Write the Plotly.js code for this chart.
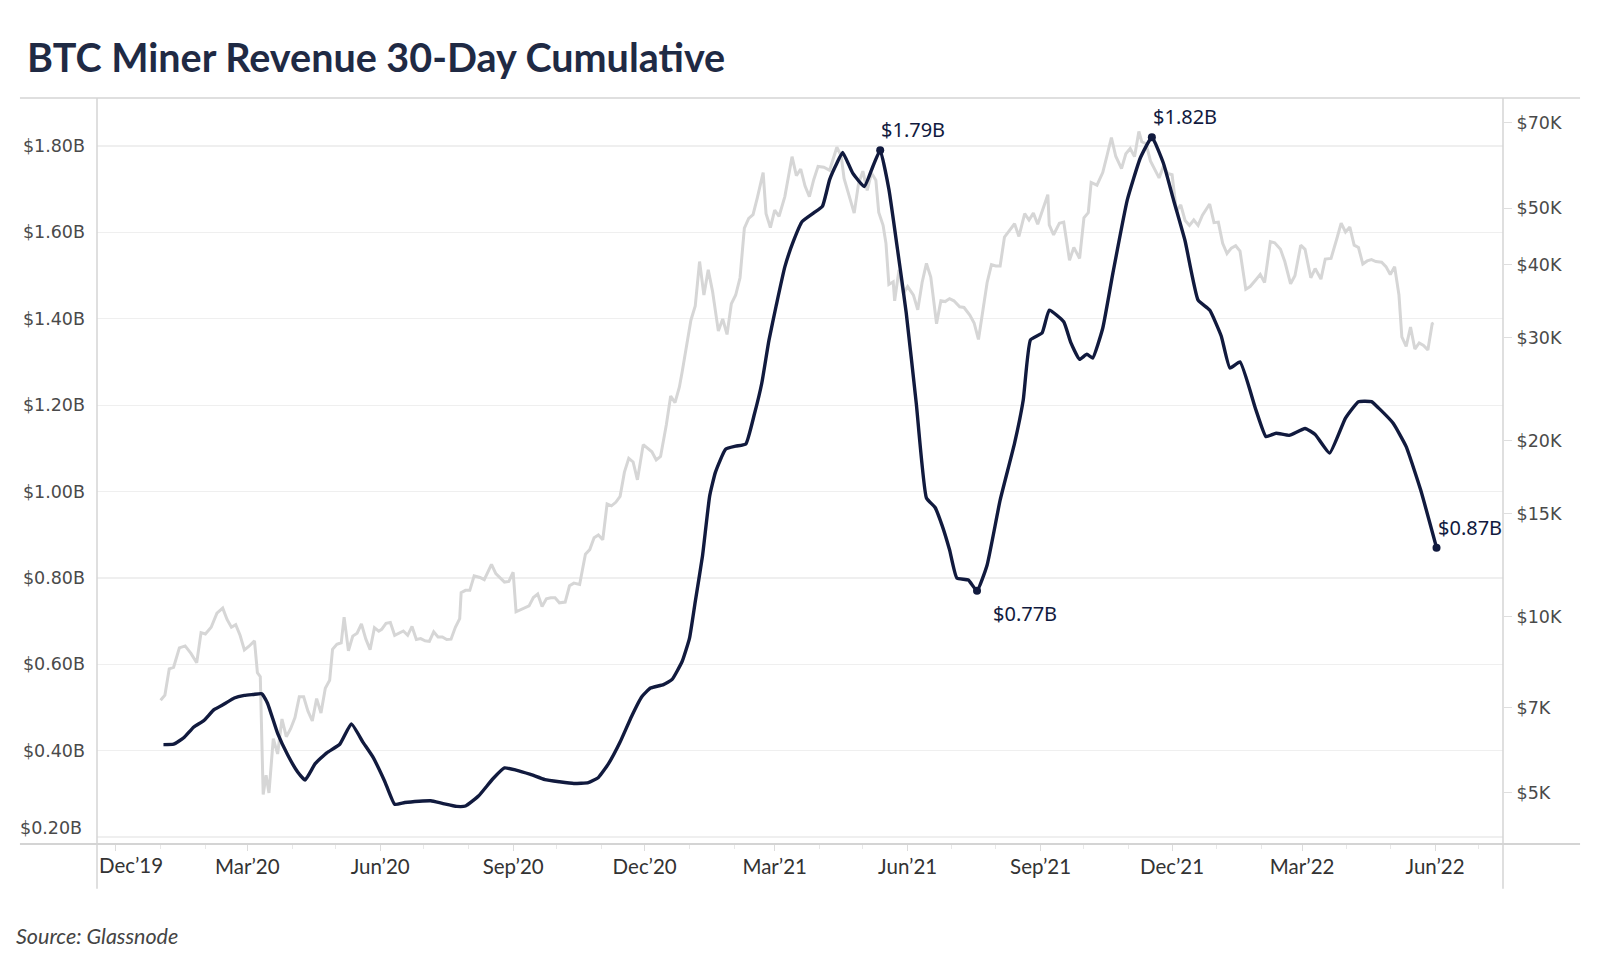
<!DOCTYPE html>
<html><head><meta charset="utf-8">
<script src="https://cdn.plot.ly/plotly-3.0.1.min.js"></script>
<style>html,body{margin:0;padding:0;background:#fff;}#chart{width:1600px;height:960px;}</style>
</head><body><div id="chart"></div>
<script>
// Miner revenue, 30-day cumulative (USD billions)
const revDates = ['2020-01-03','2020-01-10','2020-01-17','2020-01-24','2020-01-31','2020-02-07','2020-02-14','2020-02-21','2020-02-28','2020-03-05','2020-03-11','2020-03-15','2020-03-22','2020-03-29','2020-04-05','2020-04-10','2020-04-17','2020-04-25','2020-05-04','2020-05-12','2020-05-20','2020-05-27','2020-06-04','2020-06-11','2020-06-18','2020-06-28','2020-07-06','2020-07-14','2020-07-24','2020-07-30','2020-08-08','2020-08-18','2020-08-26','2020-09-03','2020-09-13','2020-09-23','2020-10-03','2020-10-13','2020-10-23','2020-10-30','2020-11-06','2020-11-14','2020-11-22','2020-11-29','2020-12-05','2020-12-14','2020-12-20','2020-12-27','2021-01-01','2021-01-05','2021-01-10','2021-01-15','2021-01-19','2021-01-26','2021-02-02','2021-02-09','2021-02-15','2021-02-20','2021-02-25','2021-03-02','2021-03-08','2021-03-14','2021-03-20','2021-03-28','2021-04-03','2021-04-08','2021-04-13','2021-04-17','2021-04-24','2021-05-02','2021-05-08','2021-05-13','2021-05-19','2021-05-25','2021-05-31','2021-06-07','2021-06-14','2021-06-20','2021-06-25','2021-06-30','2021-07-05','2021-07-13','2021-07-19','2021-07-26','2021-08-04','2021-08-14','2021-08-20','2021-08-25','2021-09-02','2021-09-07','2021-09-17','2021-09-22','2021-09-28','2021-10-03','2021-10-07','2021-10-14','2021-10-21','2021-10-31','2021-11-09','2021-11-17','2021-11-25','2021-12-02','2021-12-10','2021-12-19','2021-12-27','2022-01-04','2022-01-10','2022-01-17','2022-01-28','2022-02-04','2022-02-11','2022-02-20','2022-03-03','2022-03-10','2022-03-20','2022-03-31','2022-04-09','2022-04-18','2022-04-23','2022-05-03','2022-05-12','2022-05-22','2022-06-02'];
const revValues = [0.414,0.415,0.43,0.455,0.47,0.495,0.508,0.522,0.528,0.53,0.532,0.51,0.44,0.39,0.35,0.332,0.37,0.395,0.415,0.462,0.42,0.385,0.33,0.276,0.28,0.283,0.284,0.278,0.271,0.272,0.295,0.335,0.36,0.355,0.345,0.333,0.328,0.324,0.326,0.338,0.37,0.42,0.48,0.525,0.545,0.553,0.565,0.607,0.66,0.745,0.85,0.99,1.045,1.098,1.105,1.11,1.18,1.25,1.35,1.43,1.52,1.58,1.625,1.645,1.66,1.722,1.76,1.785,1.737,1.706,1.753,1.79,1.70,1.56,1.414,1.203,0.985,0.963,0.92,0.865,0.80,0.795,0.77,0.83,0.98,1.112,1.212,1.351,1.367,1.42,1.393,1.344,1.306,1.318,1.309,1.378,1.505,1.675,1.772,1.82,1.76,1.675,1.58,1.443,1.42,1.36,1.286,1.30,1.189,1.127,1.135,1.13,1.146,1.132,1.089,1.17,1.208,1.208,1.193,1.158,1.104,1.004,0.87];

// BTC price (USD, right log axis)
const priceDates = ['2020-01-01','2020-01-04','2020-01-07','2020-01-10','2020-01-14','2020-01-18','2020-01-22','2020-01-26','2020-01-29','2020-02-01','2020-02-05','2020-02-09','2020-02-13','2020-02-16','2020-02-19','2020-02-22','2020-02-25','2020-02-28','2020-03-02','2020-03-06','2020-03-08','2020-03-10','2020-03-12','2020-03-14','2020-03-16','2020-03-19','2020-03-22','2020-03-25','2020-03-28','2020-03-31','2020-04-03','2020-04-06','2020-04-09','2020-04-12','2020-04-15','2020-04-18','2020-04-21','2020-04-24','2020-04-27','2020-04-29','2020-05-02','2020-05-05','2020-05-07','2020-05-10','2020-05-13','2020-05-16','2020-05-19','2020-05-22','2020-05-25','2020-05-28','2020-05-31','2020-06-02','2020-06-05','2020-06-08','2020-06-11','2020-06-14','2020-06-17','2020-06-20','2020-06-23','2020-06-26','2020-06-29','2020-07-02','2020-07-05','2020-07-08','2020-07-11','2020-07-14','2020-07-17','2020-07-20','2020-07-23','2020-07-26','2020-07-27','2020-07-30','2020-08-02','2020-08-05','2020-08-09','2020-08-12','2020-08-17','2020-08-20','2020-08-23','2020-08-26','2020-08-29','2020-09-01','2020-09-03','2020-09-06','2020-09-09','2020-09-12','2020-09-15','2020-09-18','2020-09-21','2020-09-24','2020-09-27','2020-09-30','2020-10-03','2020-10-07','2020-10-10','2020-10-13','2020-10-17','2020-10-21','2020-10-24','2020-10-27','2020-10-30','2020-11-02','2020-11-05','2020-11-08','2020-11-11','2020-11-14','2020-11-17','2020-11-20','2020-11-23','2020-11-26','2020-11-30','2020-12-03','2020-12-06','2020-12-09','2020-12-12','2020-12-16','2020-12-19','2020-12-22','2020-12-25','2020-12-27','2020-12-30','2021-01-02','2021-01-05','2021-01-08','2021-01-11','2021-01-14','2021-01-17','2021-01-21','2021-01-24','2021-01-27','2021-01-30','2021-02-02','2021-02-05','2021-02-08','2021-02-11','2021-02-14','2021-02-17','2021-02-21','2021-02-23','2021-02-26','2021-03-01','2021-03-04','2021-03-08','2021-03-13','2021-03-16','2021-03-19','2021-03-22','2021-03-25','2021-03-28','2021-03-31','2021-04-04','2021-04-08','2021-04-13','2021-04-16','2021-04-18','2021-04-22','2021-04-25','2021-04-28','2021-05-01','2021-05-04','2021-05-07','2021-05-10','2021-05-12','2021-05-15','2021-05-17','2021-05-19','2021-05-22','2021-05-23','2021-05-26','2021-05-29','2021-06-01','2021-06-05','2021-06-08','2021-06-11','2021-06-14','2021-06-17','2021-06-21','2021-06-24','2021-06-27','2021-06-30','2021-07-03','2021-07-07','2021-07-10','2021-07-14','2021-07-17','2021-07-20','2021-07-23','2021-07-26','2021-07-29','2021-08-01','2021-08-04','2021-08-07','2021-08-10','2021-08-14','2021-08-17','2021-08-21','2021-08-24','2021-08-27','2021-08-30','2021-09-02','2021-09-06','2021-09-07','2021-09-10','2021-09-14','2021-09-17','2021-09-21','2021-09-24','2021-09-28','2021-10-01','2021-10-04','2021-10-06','2021-10-10','2021-10-14','2021-10-17','2021-10-20','2021-10-23','2021-10-27','2021-10-30','2021-11-02','2021-11-05','2021-11-08','2021-11-10','2021-11-13','2021-11-16','2021-11-19','2021-11-22','2021-11-25','2021-11-28','2021-12-01','2021-12-04','2021-12-07','2021-12-10','2021-12-13','2021-12-16','2021-12-19','2021-12-22','2021-12-27','2021-12-30','2022-01-02','2022-01-05','2022-01-08','2022-01-11','2022-01-14','2022-01-17','2022-01-21','2022-01-24','2022-01-28','2022-01-31','2022-02-03','2022-02-07','2022-02-10','2022-02-14','2022-02-17','2022-02-21','2022-02-24','2022-02-28','2022-03-03','2022-03-07','2022-03-10','2022-03-14','2022-03-17','2022-03-21','2022-03-25','2022-03-28','2022-03-31','2022-04-03','2022-04-06','2022-04-09','2022-04-12','2022-04-15','2022-04-18','2022-04-21','2022-04-25','2022-04-28','2022-05-01','2022-05-04','2022-05-07','2022-05-09','2022-05-12','2022-05-15','2022-05-18','2022-05-21','2022-05-24','2022-05-27','2022-05-30','2022-05-31'];
const priceValues = [7200,7350,8150,8200,8850,8920,8660,8350,9400,9350,9600,10150,10350,9900,9600,9700,9300,8780,8900,9100,8030,7900,4970,5360,5000,6190,5830,6690,6240,6440,6730,7300,7300,6900,6640,7250,6850,7550,7790,8800,8980,9030,9990,8750,9270,9380,9730,9170,8790,9580,9450,9520,9750,9780,9300,9380,9460,9300,9630,9150,9180,9100,9080,9430,9240,9240,9150,9160,9600,9930,11000,11100,11100,11750,11680,11580,12300,11860,11650,11470,11500,11920,10200,10280,10330,10440,10790,10940,10420,10740,10780,10780,10570,10600,11300,11420,11360,12800,13030,13650,13800,13550,15600,15480,15700,16070,17680,18670,18400,17150,19700,19450,19150,18550,18800,21300,23850,23250,24700,26280,28950,32150,34000,40500,35500,39200,36000,30800,32300,30400,34300,35500,38000,46200,48000,48700,52100,57500,48900,46300,49600,48400,52300,61200,56800,58300,54500,52300,55900,58900,58700,58000,63500,61400,56200,51700,49000,55000,57800,53600,57400,55800,49150,46700,43500,37000,37400,34700,39200,35700,36700,35500,33500,37300,40200,38100,31700,34700,34600,35000,34700,33900,33800,32800,31800,29800,33600,37300,40000,39800,39800,44600,45600,47000,44700,48900,47700,49000,46900,49300,52700,46800,45000,47100,47300,40700,42800,41000,48100,49100,55300,54700,57500,61500,66000,61300,58400,61900,63200,61200,67600,64900,64400,60200,58100,56300,58900,57300,57000,49400,50600,47600,46700,47700,46700,48600,50800,47200,47300,43500,41800,42700,43100,42200,36300,36700,37700,38500,37300,43800,43600,42500,40500,37100,38300,43200,42500,38000,39400,37800,40900,41000,44300,47100,45500,46400,43200,42800,40100,40600,40800,40500,40400,39700,38500,39700,35500,30100,29000,31300,28700,29400,29100,28600,31700,31800];

const xTickDates = ['2019-12-01','2020-03-01','2020-06-01','2020-09-01','2020-12-01','2021-03-01','2021-06-01','2021-09-01','2021-12-01','2022-03-01','2022-06-01'];
const xTickLabels = ['Dec\u201919','Mar\u201920','Jun\u201920','Sep\u201920','Dec\u201920','Mar\u201921','Jun\u201921','Sep\u201921','Dec\u201921','Mar\u201922','Jun\u201922'];
const leftTickVals = [0.2,0.4,0.6,0.8,1.0,1.2,1.4,1.6,1.8];
const leftTickLabels = ['$0.20B','$0.40B','$0.60B','$0.80B','$1.00B','$1.20B','$1.40B','$1.60B','$1.80B'];
const rightTickVals = [5000,7000,10000,15000,20000,30000,40000,50000,70000];
const rightTickLabels = ['$5K','$7K','$10K','$15K','$20K','$30K','$40K','$50K','$70K'];

const labelDates = ['2021-05-13','2021-11-17','2021-07-19','2022-06-02'];
const labelTexts = ['$1.79B','$1.82B','$0.77B','$0.87B'];
const labelBelow = [false,false,true,false];

const NAVY = '#111a3e';
const labelY = labelDates.map(d => revValues[revDates.indexOf(d)]);
const axisFont = {family: 'DejaVu Sans, sans-serif', size: 17.5, color: '#4a4a4a'};
const dateFont = {family: 'Lato, sans-serif', size: 20.5, color: '#333'};

const traces = [
  {x: priceDates, y: priceValues, yaxis: 'y', type: 'scatter', mode: 'lines',
   line: {color: '#d6d6d6', width: 3}, hoverinfo: 'skip'},
  {x: revDates, y: revValues, yaxis: 'y2', type: 'scatter', mode: 'lines',
   line: {color: NAVY, width: 3.4, shape: 'spline', smoothing: 0.4}},
  {x: labelDates, y: labelY, yaxis: 'y2', type: 'scatter', mode: 'markers',
   marker: {color: NAVY, size: 8}}
];

const annotations = labelDates.map((d, i) => ({
  x: d, y: labelY[i], xref: 'x', yref: 'y2', text: labelTexts[i], showarrow: false,
  xanchor: 'left', yanchor: labelBelow[i] ? 'top' : 'bottom',
  xshift: labelBelow[i] ? 14 : -1, yshift: labelBelow[i] ? -7 : 5,
  font: {family: 'Noto Sans, sans-serif', size: 20, color: NAVY}
}));
// first x tick label sits flush with the left edge
annotations.push({
  x: 0, xref: 'paper', y: 0, yref: 'paper', xanchor: 'left', yanchor: 'top',
  xshift: 0, yshift: -7, showarrow: false, text: xTickLabels[0],
  font: dateFont
});
// lowest left tick label is lifted above its gridline
annotations.push({
  x: 0, xref: 'paper', y: leftTickVals[0], yref: 'y2', xanchor: 'right', yanchor: 'middle',
  xshift: -13, yshift: 9, showarrow: false, text: leftTickLabels[0], font: axisFont
});
annotations.push({
  x: -0.059, xref: 'paper', y: -0.1233, yref: 'paper', xanchor: 'left', yanchor: 'middle',
  showarrow: false, text: '<i>Source: Glassnode</i>',
  font: {family: 'Lato, sans-serif', size: 21.5, color: '#444'}
});

const frame = '#d4d4d4';
const shapes = [
  {type: 'line', xref: 'paper', yref: 'paper', x0: -0.0548, x1: 1.0548, y0: 1, y1: 1, line: {color: frame, width: 1.5}},
  {type: 'line', xref: 'paper', yref: 'paper', x0: -0.0548, x1: 1.0548, y0: 0, y1: 0, line: {color: frame, width: 2}},
  {type: 'line', xref: 'paper', yref: 'paper', x0: 0, x1: 0, y0: -0.06, y1: 1, line: {color: frame, width: 1.5}},
  {type: 'line', xref: 'paper', yref: 'paper', x0: 1, x1: 1, y0: -0.06, y1: 1, line: {color: frame, width: 1.5}}
];

const layout = {
  width: 1600, height: 960, autosize: false,
  paper_bgcolor: '#fff', plot_bgcolor: '#fff',
  margin: {l: 97, r: 97, t: 98, b: 116},
  showlegend: false,
  title: {text: '<b>BTC Miner Revenue 30-Day Cumulative</b>', x: 27/1600, xanchor: 'left', xref: 'container',
          y: 1 - 58/960, yref: 'container', yanchor: 'middle',
          font: {family: 'Lato, sans-serif', size: 39.5, color: '#1f2a44'}},
  xaxis: {type: 'date', range: ['2019-11-18', '2022-07-18'], tickvals: xTickDates,
          ticktext: [''].concat(xTickLabels.slice(1)), showgrid: false, zeroline: false, showline: false,
          ticks: 'outside', ticklen: 6, tickcolor: '#dcdcdc', tickwidth: 1,
          minor: {dtick: 'M1', tick0: '2019-12-01', ticks: 'outside', ticklen: 4, tickcolor: '#e8e8e8', showgrid: false},
          tickfont: dateFont, ticklabelstandoff: -2, fixedrange: true},
  yaxis: {type: 'log', side: 'right', range: [Math.log10(4090), Math.log10(77100)],
          tickvals: rightTickVals, ticktext: rightTickLabels, showgrid: false, zeroline: false, showline: false,
          ticks: 'outside', ticklen: 8, tickcolor: '#dedede',
          tickfont: axisFont, ticklabelstandoff: 1},
  yaxis2: {overlaying: 'y', side: 'left', range: [0.184, 1.911], tickvals: leftTickVals,
           ticktext: [''].concat(leftTickLabels.slice(1)),
           showgrid: true, gridcolor: '#efefef', gridwidth: 1.2, zeroline: false, showline: false, ticks: '',
           tickfont: axisFont, ticklabelstandoff: 11},
  annotations: annotations,
  shapes: shapes
};

Plotly.newPlot('chart', traces, layout, {displayModeBar: false, staticPlot: true});
</script>
</body></html>
